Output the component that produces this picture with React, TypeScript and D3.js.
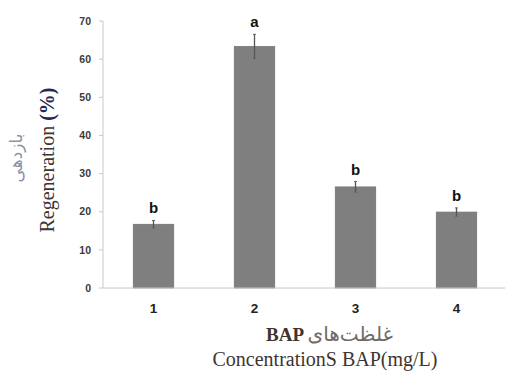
import React from "react";
import * as d3 from "d3";

const categories = ["1", "2", "3", "4"];
const values = [16.7, 63.3, 26.5, 19.9];
const errors = [1.0, 3.2, 1.4, 1.1];
const letters = ["b", "a", "b", "b"];
const yTicks = [0, 10, 20, 30, 40, 50, 60, 70];

const W = 505;
const H = 372;
const left = 103;
const right = 507;
const top = 21;
const bottom = 288;

export default function App() {
  const x = d3.scaleBand<string>().domain(categories).range([left, right]).paddingInner(0.6).paddingOuter(0.3);
  const y = d3.scaleLinear().domain([0, 70]).range([bottom, top]);
  const bw = x.bandwidth();
  return (
    <svg width={W} height={H} style={{ position: "absolute", left: 0, top: 0, background: "#fff" }}>
      {/* y axis */}
      <line x1={left} x2={left} y1={top} y2={bottom} stroke="#c8c8c8" strokeWidth={1} />
      {yTicks.map((t) => (
        <g key={t}>
          <line x1={left - 4} x2={left} y1={y(t)} y2={y(t)} stroke="#c8c8c8" />
          <text x={left - 12} y={y(t)} dy="0.35em" textAnchor="end" fontFamily="Liberation Sans, Arial" fontWeight="bold" fontSize={10.5} fill="#3a3a3a">
            {t}
          </text>
        </g>
      ))}
      {/* bars */}
      {categories.map((c, i) => {
        const cx = (x(c) as number) + bw / 2;
        return (
          <g key={c}>
            <rect x={x(c)} y={y(values[i])} width={bw} height={bottom - y(values[i])} fill="#7f7f7f" stroke="#747474" strokeWidth={0.8} />
            <line x1={cx} x2={cx} y1={y(values[i] + errors[i])} y2={y(values[i] - errors[i])} stroke="#555" strokeWidth={1.3} />
            <line x1={cx - 1.5} x2={cx + 1.5} y1={y(values[i] + errors[i])} y2={y(values[i] + errors[i])} stroke="#666" strokeWidth={1} />
            <line x1={cx - 1.5} x2={cx + 1.5} y1={y(values[i] - errors[i])} y2={y(values[i] - errors[i])} stroke="#666" strokeWidth={1} />
            <text x={cx} y={y(values[i] + errors[i]) - 7} textAnchor="middle" fontFamily="Liberation Sans, Arial" fontWeight="bold" fontSize={15} fill="#111">
              {letters[i]}
            </text>
            <text x={cx} y={308} dy="0.35em" textAnchor="middle" fontFamily="Liberation Sans, Arial" fontWeight="bold" fontSize={13.5} fill="#222">
              {c}
            </text>
          </g>
        );
      })}
      {/* x axis */}
      <line x1={left} x2={right} y1={bottom} y2={bottom} stroke="#c8c8c8" strokeWidth={1} />
      {/* y titles */}
      <text transform="translate(54,160) rotate(-90)" textAnchor="middle" fontFamily="Liberation Serif, Times New Roman" fontSize={20}>
        <tspan fill="#3e3430">Regeneration </tspan>
        <tspan fill="#1f2a55" fontWeight="bold">(%)</tspan>
      </text>
      <text transform="translate(22,158) rotate(-90)" textAnchor="middle" fontFamily="DejaVu Sans, Noto Sans" fontSize={17} fill="#8a93a8">
        بازدهی
      </text>
      {/* x titles */}
      <text x={266} y={334} dy="0.35em" textAnchor="start" fontFamily="Liberation Serif, Times New Roman" fontSize={19} fontWeight="bold" fill="#3e3430">
        BAP
      </text>
      <text x={393} y={334} dy="0.35em" textAnchor="end" fontFamily="DejaVu Sans, Noto Sans" fontSize={20} fill="#6f6a66">
        غلظت‌های
      </text>
      <text x={325} y={359} dy="0.35em" textAnchor="middle" fontFamily="Liberation Serif, Times New Roman" fontSize={20} fill="#3e3430">
        ConcentrationS BAP(mg/L)
      </text>
    </svg>
  );
}
